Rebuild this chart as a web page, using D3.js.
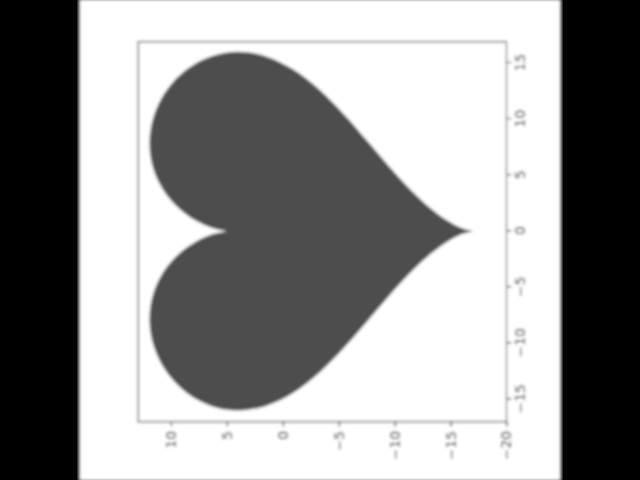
<!DOCTYPE html>
<html>
<head>
<meta charset="utf-8">
<script src="https://cdn.jsdelivr.net/npm/d3@7"></script>
<style>
  html, body { margin: 0; padding: 0; background: #000; }
  svg { display: block; }
  text { font-family: "DejaVu Sans", sans-serif; }
</style>
</head>
<body>
<svg id="chart" width="640" height="480"></svg>
<script>
// Heart outline (data units), going cusp -> right lobe -> tip -> left lobe -> cusp
const outlineX = [0, 0.28, 0.90, 2.00, 3.61, 5.66, 7.99, 10.39, 12.62, 14.42, 15.59, 16.00,
  15.59, 14.42, 12.62, 10.39, 7.99, 5.66, 3.61, 2.00, 0.90, 0.28, 0,
  -0.28, -0.90, -2.00, -3.61, -5.66, -7.99, -10.39, -12.62, -14.42, -15.59, -16.00,
  -15.59, -14.42, -12.62, -10.39, -7.99, -5.66, -3.61, -2.00, -0.90, -0.28, 0];
const outlineY = [5, 6.31, 7.71, 9.26, 10.65, 11.61, 11.92, 11.50, 10.36, 8.61, 6.43, 4.00,
  1.50, -0.95, -3.29, -5.50, -7.60, -9.61, -11.51, -13.26, -14.78, -15.97, -17,
  -15.97, -14.78, -13.26, -11.51, -9.61, -7.60, -5.50, -3.29, -0.95, 1.50, 4.00,
  6.43, 8.61, 10.36, 11.50, 11.92, 11.61, 10.65, 9.26, 7.71, 6.31, 5];
const TIP_INDEX = 22;

const xTicks = [-15, -10, -5, 0, 5, 10, 15];
const yTicks = [-20, -15, -10, -5, 0, 5, 10];
const xDomain = [-17.0, 16.9];
const yDomain = [-20.0, 12.92];

const svg = d3.select("#chart");

// blur to match the soft look of the reference
const defs = svg.append("defs");
defs.append("filter")
    .attr("id", "soft")
    .attr("x", "-5%").attr("y", "-5%")
    .attr("width", "110%").attr("height", "110%")
  .append("feGaussianBlur")
    .attr("stdDeviation", 1.4);

const root = svg.append("g").attr("filter", "url(#soft)");

root.append("rect").attr("x", -10).attr("y", -10).attr("width", 660).attr("height", 500).attr("fill", "#000");
root.append("rect").attr("x", 80).attr("y", 0).attr("width", 480).attr("height", 480).attr("fill", "#fff");

// the original figure is 480x480, shown turned a quarter turn counter-clockwise
const fig = root.append("g")
    .attr("transform", "translate(320,240) rotate(-90) translate(-240,-240)");

const axLeft = 58.3, axTop = 58.3, axRight = 438.3, axBottom = 426.5;

const x = d3.scaleLinear().domain(xDomain).range([axLeft, axRight]);
const y = d3.scaleLinear().domain(yDomain).range([axBottom, axTop]);

const pts = outlineX.map((v, i) => [v, outlineY[i]]);
const line = d3.line()
    .x(d => x(d[0]))
    .y(d => y(d[1]))
    .curve(d3.curveCatmullRom.alpha(0.5));

// two runs so the cusp and the tip stay sharp
const firstRun = line(pts.slice(0, TIP_INDEX + 1));
const secondRun = line(pts.slice(TIP_INDEX)).replace(/^M/, "L");

fig.append("path")
    .attr("d", firstRun + secondRun + "Z")
    .attr("fill", "#4d4d4d")
    .attr("stroke", "none");

const tickFmt = d => d < 0 ? "\u2212" + Math.abs(d) : String(d);

const xAxis = fig.append("g")
    .attr("transform", `translate(0,${axBottom})`)
    .call(d3.axisBottom(x).tickValues(xTicks).tickFormat(tickFmt).tickSize(4.9).tickPadding(4.2));

const yAxis = fig.append("g")
    .attr("transform", `translate(${axLeft},0)`)
    .call(d3.axisLeft(y).tickValues(yTicks).tickFormat(tickFmt).tickSize(4.9).tickPadding(4.2));

[xAxis, yAxis].forEach(a => {
  a.select(".domain").remove();
  a.selectAll(".tick line").attr("stroke", "#000").attr("stroke-width", 1.1);
  a.selectAll(".tick text")
      .attr("fill", "#000")
      .style("font-size", "13.9px")
      .style("font-family", "'DejaVu Sans', sans-serif");
});

// spines
fig.append("rect")
    .attr("x", axLeft).attr("y", axTop)
    .attr("width", axRight - axLeft).attr("height", axBottom - axTop)
    .attr("fill", "none")
    .attr("stroke", "#000")
    .attr("stroke-width", 1.1);
</script>
</body>
</html>
